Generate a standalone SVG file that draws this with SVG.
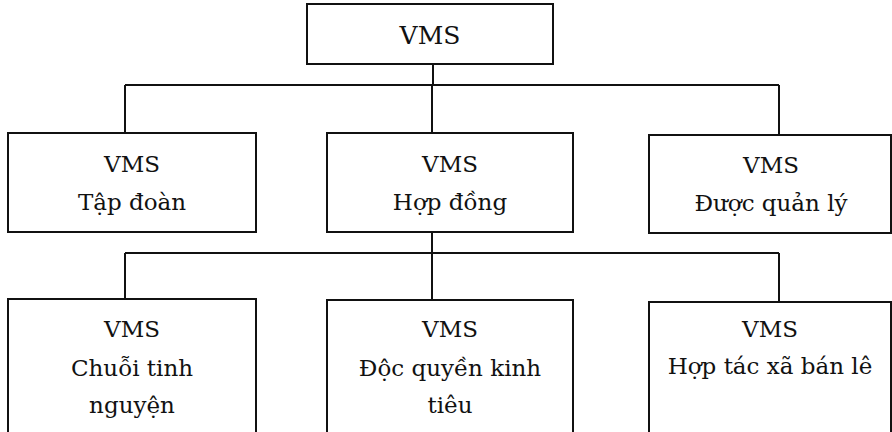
<svg xmlns="http://www.w3.org/2000/svg" width="892" height="432" viewBox="0 0 892 432">
<style>
.box{fill:#fff;stroke:#111;stroke-width:2}
.conn{fill:none;stroke:#111;stroke-width:2}
.t{font-family:'DejaVu Serif',serif;font-size:23px;fill:#111;text-anchor:middle}
.top{font-size:25px}
</style>
<rect width="892" height="432" fill="#fff"/>
<g id="connectors">
<path class="conn" d="M433 64V85M125 85H779M125 85V133M432 85V133M779 85V135"/>
<path class="conn" d="M432 232V253M125 253H779M125 253V299M432 253V300M779 253V302"/>
</g>
<g id="vms-root">
<rect class="box" x="307" y="4" width="246" height="60"/>
<text class="t top" x="430" y="44">VMS</text>
</g>
<g id="vms-tap-doan">
<rect class="box" x="8" y="133" width="248" height="99"/>
<text class="t" x="132" y="172">VMS</text>
<text class="t" x="132" y="210">Tập đoàn</text>
</g>
<g id="vms-hop-dong">
<rect class="box" x="327" y="133" width="246" height="99"/>
<text class="t" x="450" y="172">VMS</text>
<text class="t" x="450" y="210">Hợp đồng</text>
</g>
<g id="vms-duoc-quan-ly">
<rect class="box" x="649" y="135" width="242" height="98"/>
<text class="t" x="771" y="173">VMS</text>
<text class="t" x="771" y="211">Được quản lý</text>
</g>
<g id="vms-chuoi-tinh-nguyen">
<rect class="box" x="8" y="299" width="248" height="150"/>
<text class="t" x="132" y="337">VMS</text>
<text class="t" x="132" y="376">Chuỗi tinh</text>
<text class="t" x="132" y="413">nguyện</text>
</g>
<g id="vms-doc-quyen-kinh-tieu">
<rect class="box" x="327" y="300" width="246" height="150"/>
<text class="t" x="450" y="337">VMS</text>
<text class="t" x="450" y="376">Độc quyền kinh</text>
<text class="t" x="450" y="413">tiêu</text>
</g>
<g id="vms-hop-tac-xa-ban-le">
<rect class="box" x="649" y="302" width="242" height="150"/>
<text class="t" x="770" y="337">VMS</text>
<text class="t" x="770" y="374">Hợp tác xã bán lê</text>
</g>
</svg>
